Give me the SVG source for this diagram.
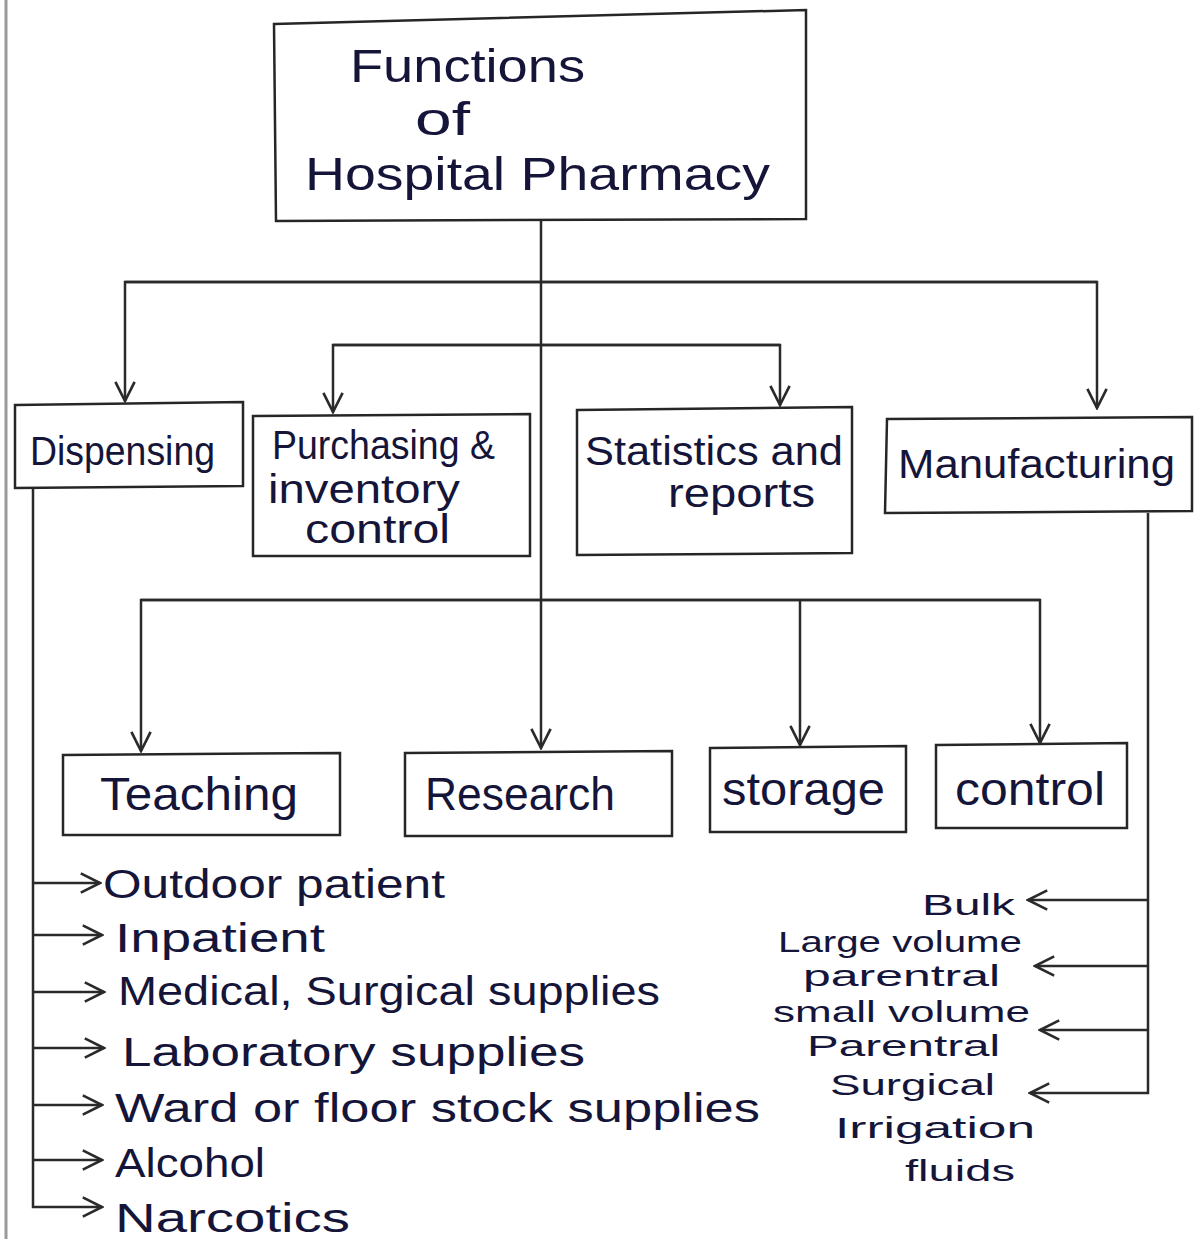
<svg xmlns="http://www.w3.org/2000/svg" width="1196" height="1239" viewBox="0 0 1196 1239">
<style>
.box{fill:none;stroke:#262626;stroke-width:2.5}
.ln{fill:none;stroke:#2a2a2a;stroke-width:2.5}
.t{font-family:"Liberation Sans","DejaVu Sans",sans-serif;fill:#15153a}
.big{font-size:46px}
.mid{font-size:40px}
.sm{font-size:30px}
</style>
<defs>
<marker id="ah" markerUnits="userSpaceOnUse" markerWidth="24" markerHeight="24" viewBox="0 0 20 20" refX="18" refY="10" orient="auto">
<path d="M2,2 L18,10 L2,18" fill="none" stroke="#2a2a2a" stroke-width="2.2"/>
</marker>
</defs>
<rect width="1196" height="1239" fill="#ffffff"/>
<line x1="6" y1="0" x2="6" y2="1239" stroke="#9a9a9a" stroke-width="3"/>

<g id="connectors">
<path class="ln" d="M541,221 V748" marker-end="url(#ah)"/>
<path class="ln" d="M1097,282 H125 V401" marker-end="url(#ah)"/>
<path class="ln" d="M125,282 H1097 V408" marker-end="url(#ah)"/>
<path class="ln" d="M780,345 H333 V412" marker-end="url(#ah)"/>
<path class="ln" d="M333,345 H780 V405" marker-end="url(#ah)"/>
<path class="ln" d="M1040,600 H141 V751" marker-end="url(#ah)"/>
<path class="ln" d="M141,600 H1040 V743" marker-end="url(#ah)"/>
<path class="ln" d="M800,600 V745" marker-end="url(#ah)"/>
<path class="ln" d="M33,488 V1207 H102" marker-end="url(#ah)"/>
<path class="ln" d="M33,883 H100" marker-end="url(#ah)"/>
<path class="ln" d="M33,935 H102" marker-end="url(#ah)"/>
<path class="ln" d="M33,992 H104" marker-end="url(#ah)"/>
<path class="ln" d="M33,1048 H104" marker-end="url(#ah)"/>
<path class="ln" d="M33,1105 H102" marker-end="url(#ah)"/>
<path class="ln" d="M33,1160 H102" marker-end="url(#ah)"/>
<path class="ln" d="M1148,513 V1093 H1030" marker-end="url(#ah)"/>
<path class="ln" d="M1148,900 H1028" marker-end="url(#ah)"/>
<path class="ln" d="M1148,966 H1035" marker-end="url(#ah)"/>
<path class="ln" d="M1148,1030 H1040" marker-end="url(#ah)"/>
</g>

<g id="main">
<path class="box" d="M274,24 L806,10 L806,219 L276,221 Z"/>
<text class="t big" x="350" y="82" textLength="235" lengthAdjust="spacingAndGlyphs">Functions</text>
<text class="t big" x="415" y="135" textLength="55" lengthAdjust="spacingAndGlyphs">of</text>
<text class="t big" x="305" y="190" textLength="465" lengthAdjust="spacingAndGlyphs">Hospital Pharmacy</text>
</g>

<g id="dispensing">
<path class="box" d="M15,405 L243,402 L243,486 L15,488 Z"/>
<text class="t mid" x="30" y="465" textLength="185" lengthAdjust="spacingAndGlyphs">Dispensing</text>
</g>

<g id="purchasing">
<path class="box" d="M253,416 L530,414 L530,556 L253,556 Z"/>
<text class="t mid" x="272" y="459" textLength="223" lengthAdjust="spacingAndGlyphs">Purchasing &amp;</text>
<text class="t mid" x="268" y="503" textLength="192" lengthAdjust="spacingAndGlyphs">inventory</text>
<text class="t mid" x="305" y="543" textLength="145" lengthAdjust="spacingAndGlyphs">control</text>
</g>

<g id="statistics">
<path class="box" d="M577,410 L852,407 L852,553 L577,555 Z"/>
<text class="t mid" x="585" y="465" textLength="258" lengthAdjust="spacingAndGlyphs">Statistics and</text>
<text class="t mid" x="668" y="507" textLength="147" lengthAdjust="spacingAndGlyphs">reports</text>
</g>

<g id="manufacturing">
<path class="box" d="M887,419 L1192,417 L1192,511 L885,513 Z"/>
<text class="t mid" x="898" y="478" textLength="277" lengthAdjust="spacingAndGlyphs">Manufacturing</text>
</g>

<g id="teaching">
<path class="box" d="M63,755 L340,753 L340,835 L63,835 Z"/>
<text class="t big" x="100" y="810" textLength="198" lengthAdjust="spacingAndGlyphs">Teaching</text>
</g>

<g id="research">
<path class="box" d="M405,753 L672,751 L672,836 L405,836 Z"/>
<text class="t big" x="425" y="810" textLength="190" lengthAdjust="spacingAndGlyphs">Research</text>
</g>

<g id="storage">
<path class="box" d="M710,748 L906,746 L906,832 L710,832 Z"/>
<text class="t big" x="722" y="805" textLength="163" lengthAdjust="spacingAndGlyphs">storage</text>
</g>

<g id="control">
<path class="box" d="M936,745 L1127,743 L1127,828 L936,828 Z"/>
<text class="t big" x="955" y="805" textLength="150" lengthAdjust="spacingAndGlyphs">control</text>
</g>

<g id="dispensing-items">
<text class="t mid" x="103" y="898" textLength="342" lengthAdjust="spacingAndGlyphs">Outdoor patient</text>
<text class="t mid" x="115" y="952" textLength="210" lengthAdjust="spacingAndGlyphs">Inpatient</text>
<text class="t mid" x="118" y="1005" textLength="542" lengthAdjust="spacingAndGlyphs">Medical, Surgical supplies</text>
<text class="t mid" x="122" y="1066" textLength="463" lengthAdjust="spacingAndGlyphs">Laboratory supplies</text>
<text class="t mid" x="115" y="1122" textLength="645" lengthAdjust="spacingAndGlyphs">Ward or floor stock supplies</text>
<text class="t mid" x="115" y="1177" textLength="150" lengthAdjust="spacingAndGlyphs">Alcohol</text>
<text class="t mid" x="115" y="1232" textLength="235" lengthAdjust="spacingAndGlyphs">Narcotics</text>
</g>

<g id="manufacturing-items">
<text class="t sm" x="922" y="915" textLength="93" lengthAdjust="spacingAndGlyphs">Bulk</text>
<text class="t sm" x="778" y="952" textLength="244" lengthAdjust="spacingAndGlyphs">Large volume</text>
<text class="t sm" x="803" y="986" textLength="197" lengthAdjust="spacingAndGlyphs">parentral</text>
<text class="t sm" x="773" y="1022" textLength="257" lengthAdjust="spacingAndGlyphs">small volume</text>
<text class="t sm" x="807" y="1056" textLength="193" lengthAdjust="spacingAndGlyphs">Parentral</text>
<text class="t sm" x="830" y="1095" textLength="165" lengthAdjust="spacingAndGlyphs">Surgical</text>
<text class="t sm" x="835" y="1138" textLength="200" lengthAdjust="spacingAndGlyphs">Irrigation</text>
<text class="t sm" x="905" y="1181" textLength="110" lengthAdjust="spacingAndGlyphs">fluids</text>
</g>
</svg>
